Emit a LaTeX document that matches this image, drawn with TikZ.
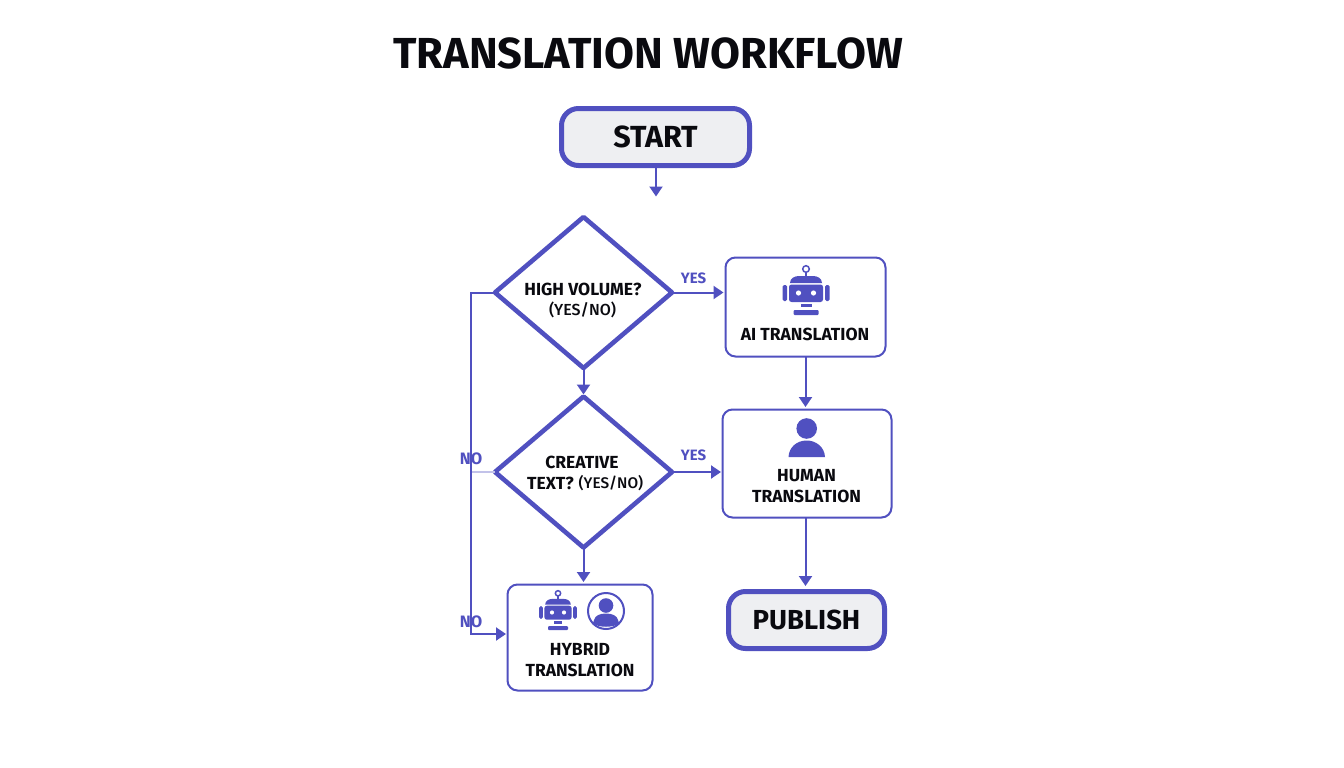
\documentclass[tikz,border=0pt]{standalone}
\usepackage{fontspec}
\setmainfont{Fira Sans}
\newfontfamily\medfont{Fira Sans Medium}
\usetikzlibrary{arrows.meta,shapes.geometric}
\definecolor{ind}{HTML}{5050C0}
\definecolor{pale}{HTML}{EEEFF2}
\definecolor{ink}{HTML}{0A0A0F}
\tikzset{
  termbox/.style={draw=ind,line width=5pt,fill=pale,rounded corners=17pt,inner sep=0pt,text=ink},
  procbox/.style={draw=ind,line width=2pt,rounded corners=10pt,inner sep=0pt,text=ink,outer sep=0pt},
  lab/.style={text=ink,font=\fontsize{17.5}{21}\selectfont\bfseries,align=center,inner sep=0pt},
  sublab/.style={text=ink,font=\fontsize{16}{21}\medfont,inner sep=0pt},
  decision/.style={draw=ind,line width=4.6pt,fill=white,diamond,aspect=1.17,inner sep=0pt,outer sep=0pt,minimum width=177pt,minimum height=151pt,line join=round},
  conn/.style={draw=ind,line width=2pt,-{Triangle[length=10pt,width=13pt]}},
  plainconn/.style={draw=ind!35,line width=1.6pt},
  edgelab/.style={text=ind,font=\fontsize{15}{18}\selectfont\bfseries,inner sep=0pt},
}
\newcommand{\roboticon}[2]{%
  \begin{scope}[shift={(#1)},scale=#2]
    \draw[ind,line width=1.5pt] (0,-24) circle (3.3);
    \draw[ind,line width=1.8pt] (0,-20.7) -- (0,-17);
    \fill[ind] (-16,-10) .. controls (-16,-15) and (-11,-17) .. (-7,-17) -- (7,-17) .. controls (11,-17) and (16,-15) .. (16,-10) -- cycle;
    \fill[ind,rounded corners=2.5pt] (-17,-8.5) rectangle (17,9);
    \fill[white] (-7.5,0) circle (2.6) (7.5,0) circle (2.6);
    \fill[ind,rounded corners=1.5pt] (-23.5,-8) rectangle (-19,8);
    \fill[ind,rounded corners=1.5pt] (19,-8) rectangle (23.5,8);
    \fill[ind] (-5.5,11) rectangle (5.5,14);
    \fill[ind,rounded corners=1pt] (-12.5,17) rectangle (12.5,22);
  \end{scope}}
\begin{document}
\begin{tikzpicture}[x=1pt,y=-1pt]
\useasboundingbox (0,0) rectangle (1344,768);
\fill[white] (0,0) rectangle (1344,768);
\node[inner sep=0pt,text=ink,font=\fontsize{43.4}{48}\selectfont\bfseries] (title) at (648,53) {TRANSLATION WORKFLOW};
\node[termbox,minimum width=188pt,minimum height=57pt,font=\fontsize{30.5}{32}\selectfont\bfseries] (start) at (655.5,137) {\raisebox{-1pt}{START}};
\coordinate (d1in) at (656,196.5);
\node[decision] (d1) at (583.5,292.5) {};
\node[decision] (d2) at (583.5,472) {};
\node[lab,anchor=center] (d1a) at (583,289) {HIGH VOLUME?};
\node[sublab] (d1b) at (582.5,310) {(YES/NO)};
\node[lab] (d2a) at (582,462) {CREATIVE};
\node[lab,anchor=east] (d2b) at (574,483) {TEXT?};
\node[sublab,font=\fontsize{15.4}{21}\medfont,anchor=west] (d2c) at (578.5,483) {(YES/NO)};
\node[procbox,minimum width=160pt,minimum height=99pt] (ai) at (805.5,307) {};
\node[lab] (ait) at (805,334.5) {AI TRANSLATION};
\node[procbox,minimum width=169pt,minimum height=108pt] (human) at (807,463.5) {};
\node[lab] (humant) at (806.5,486) {HUMAN\\[0.4pt]TRANSLATION};
\node[procbox,minimum width=145pt,minimum height=106pt] (hybrid) at (580,637.5) {};
\node[lab] (hybridt) at (580,660) {HYBRID\\[0.4pt]TRANSLATION};
\node[termbox,minimum width=156pt,minimum height=57pt,font=\fontsize{27.5}{32}\selectfont\bfseries] (publish) at (806.5,620) {PUBLISH};
\roboticon{806,293}{1}
\roboticon{558,612.5}{0.8}
% person
\fill[ind] (806.7,428.5) circle (10.3);
\fill[ind] (788.5,457) .. controls (789,447) and (797,440.5) .. (806.7,440.5) .. controls (816,440.5) and (824.5,447) .. (825,457) -- cycle;
% person in circle
\draw[ind,line width=2pt] (606,611) circle (18);
\fill[ind] (606,605.5) circle (7.3);
\fill[ind] (594,620) .. controls (595,615.5) and (600,613.5) .. (606,613.5) .. controls (612,613.5) and (617,615.5) .. (618,620) -- (619,623) .. controls (615,628) and (597,628) .. (593,623) -- cycle;
% connectors
\draw[conn] (656,166) -- (d1in);
\coordinate (elbow1) at (471,292.5);
\coordinate (elbow2) at (471,634);
\coordinate (h1) at (506,634);
\coordinate (a1) at (723.5,292.5);
\coordinate (a2) at (721,472);
\coordinate (v1) at (583.5,394.5);
\coordinate (v2) at (583.5,582);
\coordinate (v3) at (805.5,407);
\coordinate (v4) at (805.5,586);
\draw[plainconn] (d2.west) -- (471,472);
\draw[conn] (d1.west) -- (elbow1) -- (elbow2) -- (h1);
\draw[conn] (d1.east) -- (a1);
\draw[conn] (d1.south) -- (v1);
\draw[conn] (d2.east) -- (a2);
\draw[conn] (d2.south) -- (v2);
\draw[conn] (ai.south) -- (v3);
\draw[conn] (v4 |- human.south) -- (v4);
\node[edgelab] (y1) at (693.5,278) {YES};
\node[edgelab] (y2) at (693.5,455) {YES};
\node[edgelab,font=\fontsize{16.5}{18}\selectfont\bfseries] (n1) at (471,459) {NO};
\node[edgelab,font=\fontsize{16.5}{18}\selectfont\bfseries] (n2) at (471,622) {NO};
\end{tikzpicture}
\end{document}
